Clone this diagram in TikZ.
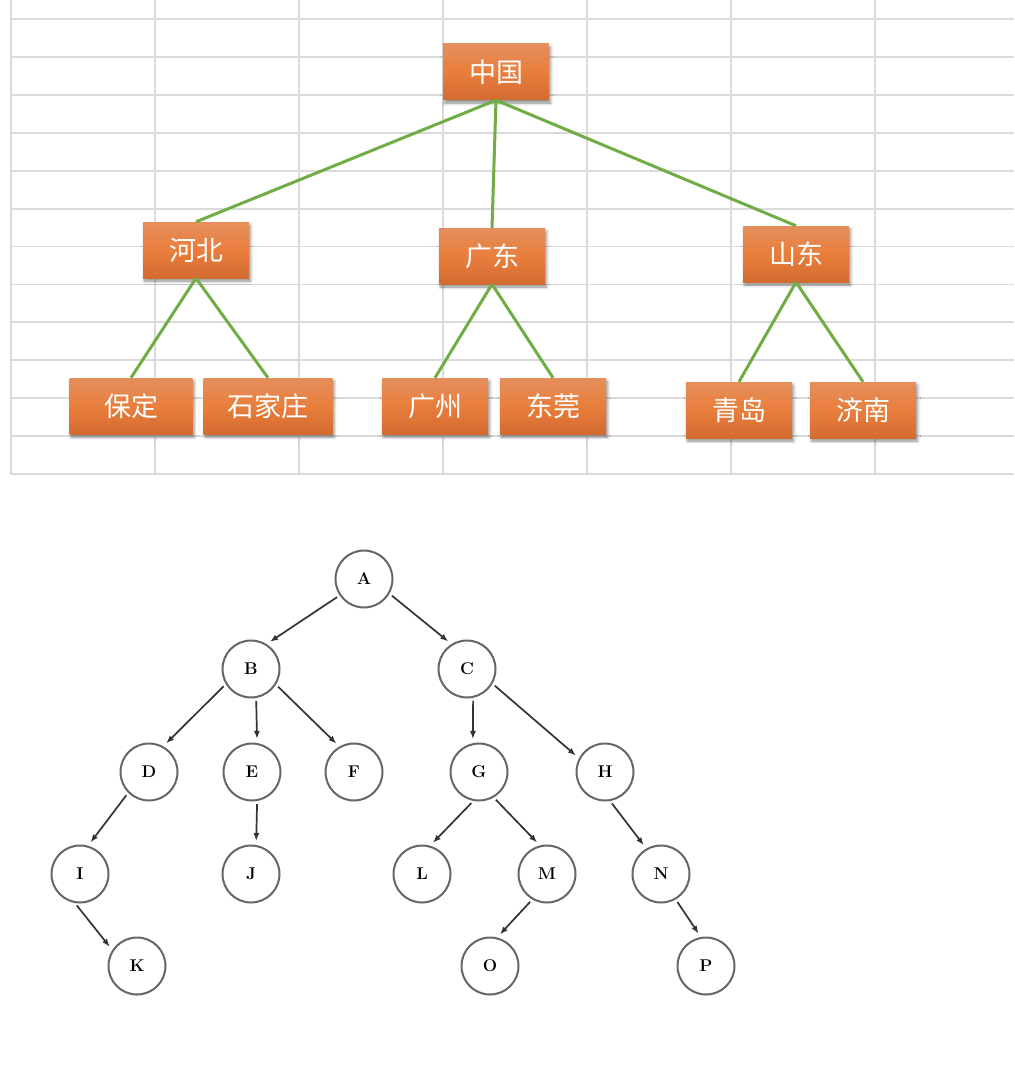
\documentclass[tikz,border=0pt]{standalone}
\usepackage{fontspec}
\newfontfamily\cjk{Noto Sans CJK SC}
\usetikzlibrary{positioning,arrows.meta,shadows.blur}
\definecolor{gridgray}{RGB}{218,218,218}
\definecolor{boxtop}{RGB}{229,143,93}
\definecolor{boxmid}{RGB}{233,126,60}
\definecolor{boxbot}{RGB}{211,107,48}
\definecolor{twiggreen}{RGB}{112,173,71}

\begin{document}
\begin{tikzpicture}[x=1pt,y=-1pt,
  orbox/.style={rectangle,top color=boxtop,bottom color=boxbot,middle color=boxmid,minimum width=#1,minimum height=56pt,inner sep=0pt,text=white,font=\cjk\fontsize{27}{27}\selectfont,blur shadow={shadow xshift=1.5pt,shadow yshift=-3pt,shadow blur radius=3pt,shadow opacity=45}},
  orbox/.default=106pt,
  twig/.style={twiggreen,line width=3pt},
  ball/.style={circle,draw=black!60,line width=2pt,minimum size=57pt,inner sep=0pt,font=\fontsize{17}{17}\selectfont\bfseries},
  ptr/.style={-{Latex[length=8pt,width=6pt]},black!80,line width=1.7pt,shorten <=3pt,shorten >=4pt},
]
\useasboundingbox (0,0) rectangle (1014,1070);

% Spreadsheet grid behind the chart
\foreach \gx in {11,155,299,443,587,731,875}
  \draw[gridgray,line width=1.8pt] (\gx,0) -- (\gx,474);
\foreach \k in {0,...,12}
  \draw[gridgray,line width=1.8pt] (11,{19+37.92*\k}) -- (1014,{19+37.92*\k});

% Top: country
\node[orbox] (zg) at (496,72) {中国};

% Provinces
\node[orbox] (hb) at (196,250) {河北};
\node[orbox] (gd) at (492,256) {广东};
\node[orbox] (sd) at (796,254) {山东};

% Cities
\node[orbox=123pt] (bd) at (131,406) {保定};
\node[orbox=129pt] (sjz) at (268,406) {石家庄};
\node[orbox] (gz) at (435,406) {广州};
\node[orbox] (dg) at (553,406) {东莞};
\node[orbox] (qd) at (739,410) {青岛};
\node[orbox] (jn) at (863,410) {济南};

% Green links
\draw[twig] (zg.south) -- (hb.north);
\draw[twig] (zg.south) -- (gd.north);
\draw[twig] (zg.south) -- (sd.north);
\draw[twig] (hb.south) -- (bd.north);
\draw[twig] (hb.south) -- (sjz.north);
\draw[twig] (gd.south) -- (gz.north);
\draw[twig] (gd.south) -- (dg.north);
\draw[twig] (sd.south) -- (qd.north);
\draw[twig] (sd.south) -- (jn.north);

% Tree: level 0 and 1
\node[ball] (a) at (364,579) {A};
\node[ball] (b) at (251,669) {B};
\node[ball] (c) at (467,669) {C};

% Level 2
\node[ball] (d) at (149,772) {D};
\node[ball] (e) at (252,772) {E};
\node[ball] (f) at (354,772) {F};
\node[ball] (g) at (479,772) {G};
\node[ball] (h) at (605,772) {H};

% Level 3
\node[ball] (i) at (80,874) {I};
\node[ball] (j) at (251,874) {J};
\node[ball] (l) at (422,874) {L};
\node[ball] (m) at (547,874) {M};
\node[ball] (n) at (661,874) {N};

% Level 4
\node[ball] (k) at (137,966) {K};
\node[ball] (o) at (490,966) {O};
\node[ball] (p) at (706,966) {P};

% Arrows
\draw[ptr] (a.214) -- (b.58);
\draw[ptr] (a.330) -- (c.122);
\draw[ptr] (b.211) -- (d.61);
\draw[ptr] (b.-80) -- (e.80);
\draw[ptr] (b.328) -- (f.120);
\draw[ptr] (c.-78) -- (g.102);
\draw[ptr] (c.330) -- (h.152);
\draw[ptr] (d.225) -- (i.74);
\draw[ptr] (e.-80) -- (j.80);
\draw[ptr] (i.260) -- (k.147);
\draw[ptr] (g.259) -- (l.74);
\draw[ptr] (g.300) -- (m.104);
\draw[ptr] (h.280) -- (n.120);
\draw[ptr] (m.240) -- (o.76);
\draw[ptr] (n.300) -- (p.100);
\end{tikzpicture}
\end{document}
